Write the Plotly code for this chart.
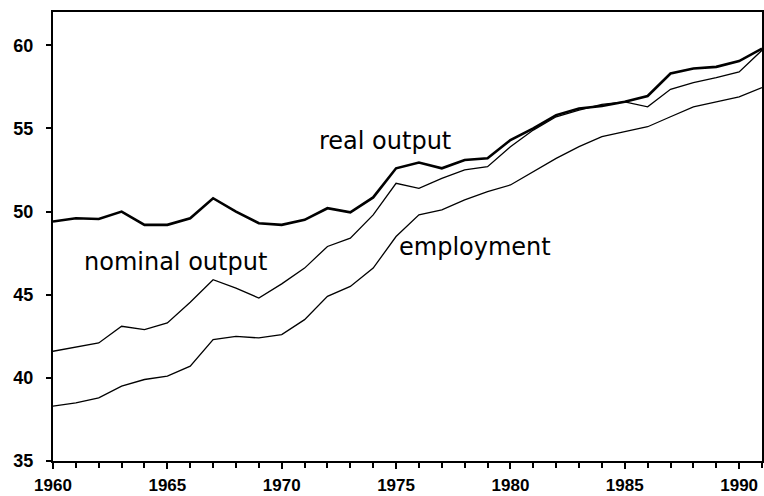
import plotly.graph_objects as go

years = list(range(1960, 1992))
real_output = [49.4, 49.6, 49.55, 50.0, 49.2, 49.2, 49.6, 50.8, 50.0, 49.3, 49.2, 49.5,
               50.2, 49.95, 50.85, 52.6, 52.95, 52.6, 53.1, 53.2, 54.3, 55.0, 55.8, 56.2,
               56.35, 56.6, 56.95, 58.3, 58.6, 58.7, 59.05, 59.8]
nominal_output = [41.6, 41.85, 42.1, 43.1, 42.9, 43.3, 44.55, 45.9, 45.4, 44.8, 45.65, 46.6,
                  47.9, 48.4, 49.8, 51.7, 51.4, 52.0, 52.5, 52.7, 53.9, 54.9, 55.7, 56.1,
                  56.45, 56.6, 56.3, 57.35, 57.75, 58.05, 58.4, 59.7]
employment = [38.3, 38.5, 38.8, 39.5, 39.9, 40.1, 40.7, 42.3, 42.5, 42.4, 42.6, 43.5,
              44.9, 45.5, 46.6, 48.5, 49.8, 50.1, 50.7, 51.2, 51.6, 52.4, 53.2, 53.9,
              54.5, 54.8, 55.1, 55.7, 56.3, 56.6, 56.9, 57.45]

labels = ["real output", "nominal output", "employment"]
label_x = [1974.5, 1965.35, 1978.45]
label_y = [54.25, 46.95, 47.85]

fig = go.Figure()
fig.add_trace(go.Scatter(x=years, y=employment, mode="lines",
                         line=dict(color="black", width=1.3), name="employment"))
fig.add_trace(go.Scatter(x=years, y=nominal_output, mode="lines",
                         line=dict(color="black", width=1.3), name="nominal output"))
fig.add_trace(go.Scatter(x=years, y=real_output, mode="lines",
                         line=dict(color="black", width=2.6), name="real output"))

for t, x, y in zip(labels, label_x, label_y):
    fig.add_annotation(x=x, y=y, text=t, showarrow=False, xanchor="center", yanchor="middle",
                       font=dict(family="DejaVu Sans", size=24, color="black"))

fig.update_layout(
    width=764, height=496,
    margin=dict(l=53, r=2, t=12, b=35, autoexpand=False),
    paper_bgcolor="white", plot_bgcolor="white",
    showlegend=False,
    font=dict(family="Liberation Sans", color="black"),
)
fig.update_xaxes(
    range=[1960, 1991], tickvals=[1960, 1965, 1970, 1975, 1980, 1985, 1990],
    ticks="outside", ticklen=6, tickwidth=1.5, tickcolor="black",
    minor=dict(dtick=1, tick0=1960, ticks="outside", ticklen=5, tickwidth=1.5, tickcolor="black"),
    showgrid=False, zeroline=False, automargin=False,
    showline=True, linecolor="black", linewidth=2, mirror=True,
    ticklabelstandoff=2,
    tickfont=dict(family="Liberation Sans", size=17, color="black", weight="bold"),
)
fig.update_yaxes(
    range=[35, 62], tickvals=[35, 40, 45, 50, 55, 60],
    ticks="outside", ticklen=5, tickwidth=1.5, tickcolor="black",
    showgrid=False, zeroline=False, automargin=False,
    showline=True, linecolor="black", linewidth=2, mirror=True,
    ticklabelstandoff=9,
    tickfont=dict(family="Liberation Sans", size=18, color="black", weight="bold"),
)

fig.write_html("out.html", config={"displayModeBar": False},
               post_script="document.body.style.margin='0';document.body.style.overflow='hidden';")
